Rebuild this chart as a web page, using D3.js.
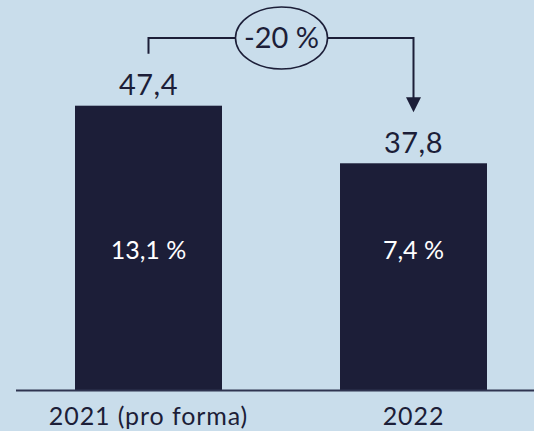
<!DOCTYPE html>
<html><head><meta charset="utf-8">
<script src="https://cdn.jsdelivr.net/npm/d3@7"></script>
<style>
html,body{margin:0;padding:0;background:#c9ddeb;}
svg{display:block;}
text{font-family:"Lato","Open Sans",sans-serif;font-weight:400;}
</style></head>
<body>
<svg id="chart" width="534" height="431"></svg>
<script>
const categories = ["2021 (pro forma)", "2022"];
const values = [47.4, 37.8];
const valueLabels = ["47,4", "37,8"];
const innerLabels = ["13,1 %", "7,4 %"];
const changeLabel = "-20 %";

const W = 534, H = 431;
const navy = "#1c1e38";
const svg = d3.select("#chart");
svg.append("rect").attr("width", W).attr("height", H).attr("fill", "#c9ddeb");

const x = d3.scaleBand().domain(categories).range([22, 540]).paddingInner(0.4453).paddingOuter(0.2);
const y = d3.scaleLinear().domain([0, 47.4]).range([390, 105.7]);

// bars
svg.selectAll("rect.bar").data(values).enter().append("rect")
  .attr("class", "bar")
  .attr("x", (d, i) => x(categories[i]))
  .attr("y", d => y(d))
  .attr("width", x.bandwidth())
  .attr("height", d => y(0) - y(d))
  .attr("fill", navy);

// baseline
svg.append("line").attr("x1", 16).attr("x2", W).attr("y1", y(0) + 0.5).attr("y2", y(0) + 0.5)
  .attr("stroke", "#2f3450").attr("stroke-width", 2);

// value labels above
svg.selectAll("text.val").data(values).enter().append("text")
  .attr("class", "val")
  .attr("x", (d, i) => x(categories[i]) + x.bandwidth() / 2)
  .attr("y", d => y(d) - 10.5)
  .attr("text-anchor", "middle")
  .attr("font-size", 29)
  .attr("letter-spacing", "0.5px")
  .attr("fill", navy)
  .text((d, i) => valueLabels[i]);

// inner labels
svg.selectAll("text.inner").data(innerLabels).enter().append("text")
  .attr("class", "inner")
  .attr("x", (d, i) => x(categories[i]) + x.bandwidth() / 2)
  .attr("y", y(23.3))
  .attr("dy", "0.36em")
  .attr("text-anchor", "middle")
  .attr("font-size", 25)
  .attr("fill", "#ffffff")
  .text(d => d);

// x axis labels
const xAxis = d3.axisBottom(x).tickSize(0).tickPadding(17);
const gx = svg.append("g").attr("transform", `translate(0,${y(0)})`).call(xAxis);
gx.select(".domain").remove();
gx.selectAll("text").attr("font-size", 25).attr("fill", navy)
  .attr("font-family", "Lato, 'Open Sans', sans-serif").attr("font-weight", 400)
  .attr("letter-spacing", "0.9px");

// change connector
const x1c = x(categories[0]) + x.bandwidth() / 2;
const x2c = x(categories[1]) + x.bandwidth() / 2;
const lineY = 38;
const ex = (x1c + x2c) / 2 + 0.5, rx = 46, ry = 31;
svg.append("path")
  .attr("d", `M${x1c},${y(values[0]) - 52} V${lineY} H${ex - rx}`)
  .attr("fill", "none").attr("stroke", navy).attr("stroke-width", 2);
svg.append("path")
  .attr("d", `M${ex + rx},${lineY} H${x2c} V${y(values[1]) - 63}`)
  .attr("fill", "none").attr("stroke", navy).attr("stroke-width", 2);
const tipY = y(values[1]) - 51;
svg.append("path")
  .attr("d", `M${x2c - 7.5},${tipY - 15} L${x2c + 7.5},${tipY - 15} L${x2c},${tipY} Z`)
  .attr("fill", navy);
svg.append("ellipse").attr("cx", ex).attr("cy", lineY).attr("rx", rx).attr("ry", ry)
  .attr("fill", "none").attr("stroke", navy).attr("stroke-width", 1.6);
svg.append("text").attr("x", ex).attr("y", lineY).attr("dy", "0.36em")
  .attr("text-anchor", "middle").attr("font-size", 29).attr("fill", navy).text(changeLabel);
</script>
</body></html>
